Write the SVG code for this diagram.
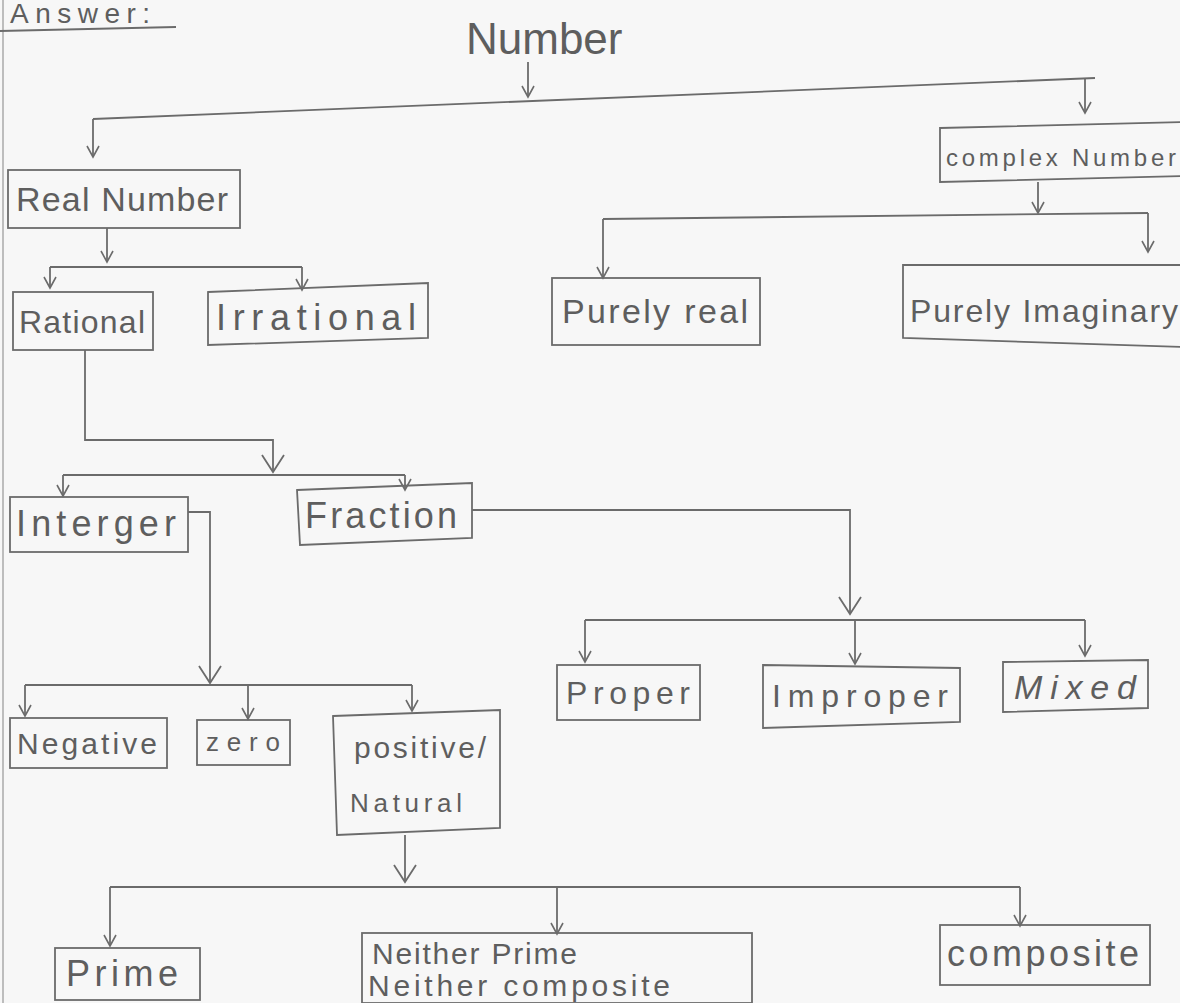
<svg xmlns="http://www.w3.org/2000/svg" width="1180" height="1003" viewBox="0 0 1180 1003">
<style>
.box{fill:none;stroke:#6b6b6b;stroke-width:1.8}
.ln{fill:none;stroke:#6b6b6b;stroke-width:1.8}
.ar{fill:none;stroke:#6b6b6b;stroke-width:1.8;marker-end:url(#v)}
.arb{fill:none;stroke:#6b6b6b;stroke-width:1.8;marker-end:url(#vb)}
text{font-family:"Liberation Sans","DejaVu Sans",sans-serif;fill:#5e5e5e}
</style>
<defs>
<marker id="v" viewBox="-14 -9 16 18" refX="0" refY="0" markerWidth="16" markerHeight="18" markerUnits="userSpaceOnUse" orient="auto">
<path d="M-11,-6 L0,0 L-11,6" fill="none" stroke="#6b6b6b" stroke-width="1.6"/>
</marker>
<marker id="vb" viewBox="-20 -14 22 28" refX="0" refY="0" markerWidth="22" markerHeight="28" markerUnits="userSpaceOnUse" orient="auto">
<path d="M-17,-11 L0,0 L-17,11" fill="none" stroke="#6b6b6b" stroke-width="1.8"/>
</marker>
</defs>
<rect x="0" y="0" width="1180" height="1003" fill="#f7f7f7"/>
<line x1="3" y1="0" x2="3" y2="1003" stroke="#bdbdbd" stroke-width="2"/>

<g id="title">
<text x="10" y="23" font-size="28" textLength="140" lengthAdjust="spacing">Answer:</text>
<path class="ln" d="M0,31 L176,27" stroke-width="3"/>
</g>

<g id="connectors">
<line class="ar" x1="528" y1="62" x2="528" y2="97"/>
<path class="ln" d="M93,119 L1095,78"/>
<line class="ar" x1="93" y1="119" x2="93" y2="157"/>
<line class="ar" x1="1085" y1="79" x2="1085" y2="113"/>
<line class="ar" x1="107" y1="228" x2="107" y2="262"/>
<path class="ln" d="M50,267 L302,267"/>
<line class="ar" x1="50" y1="267" x2="50" y2="288"/>
<line class="ar" x1="302" y1="267" x2="302" y2="290"/>
<line class="ar" x1="1038" y1="182" x2="1038" y2="213"/>
<path class="ln" d="M603,219 L1148,213"/>
<line class="ar" x1="603" y1="219" x2="603" y2="278"/>
<line class="ar" x1="1148" y1="213" x2="1148" y2="252"/>
<path class="arb" d="M85,350 L85,440 L273,440 L273,472"/>
<path class="ln" d="M63,475 L405,475"/>
<line class="ar" x1="63" y1="475" x2="63" y2="496"/>
<line class="ar" x1="405" y1="475" x2="405" y2="490"/>
<path class="arb" d="M472,510 L850,510 L850,614"/>
<path class="ln" d="M585,620 L1085,620"/>
<line class="ar" x1="585" y1="620" x2="585" y2="662"/>
<line class="ar" x1="855" y1="620" x2="855" y2="664"/>
<line class="ar" x1="1085" y1="620" x2="1085" y2="656"/>
<path class="arb" d="M188,512 L210,512 L210,683"/>
<path class="ln" d="M25,685 L412,685"/>
<line class="ar" x1="25" y1="685" x2="25" y2="716"/>
<line class="ar" x1="248" y1="685" x2="248" y2="719"/>
<line class="ar" x1="412" y1="685" x2="412" y2="711"/>
<line class="arb" x1="405" y1="835" x2="405" y2="882"/>
<path class="ln" d="M110,887 L1020,887"/>
<line class="ar" x1="110" y1="887" x2="110" y2="946"/>
<line class="ar" x1="557" y1="887" x2="557" y2="934"/>
<line class="ar" x1="1020" y1="887" x2="1020" y2="926"/>
</g>

<g id="n-number">
<text x="466" y="54" font-size="44">Number</text>
</g>
<g id="n-real">
<rect class="box" x="8" y="170" width="232" height="58"/>
<text x="16" y="211" font-size="34" textLength="212" lengthAdjust="spacing">Real Number</text>
</g>
<g id="n-complex">
<path class="box" d="M940,128 L1185,122 L1185,176 L940,182 Z"/>
<text x="946" y="166" font-size="24" textLength="230" lengthAdjust="spacing">complex Number</text>
</g>
<g id="n-rational">
<rect class="box" x="13" y="292" width="140" height="58"/>
<text x="19" y="333" font-size="32" textLength="126" lengthAdjust="spacing">Rational</text>
</g>
<g id="n-irrational">
<path class="box" d="M208,292 L428,283 L428,338 L208,345 Z"/>
<text x="216" y="330" font-size="36" textLength="200" lengthAdjust="spacing">Irrational</text>
</g>
<g id="n-purely-real">
<rect class="box" x="552" y="278" width="208" height="67"/>
<text x="562" y="323" font-size="34" textLength="186" lengthAdjust="spacing">Purely real</text>
</g>
<g id="n-purely-imaginary">
<path class="box" d="M903,265 L1185,265 L1185,347 L903,338 Z"/>
<text x="910" y="322" font-size="32" textLength="268" lengthAdjust="spacing">Purely Imaginary</text>
</g>
<g id="n-integer">
<rect class="box" x="10" y="497" width="178" height="55"/>
<text x="16" y="536" font-size="36" textLength="160" lengthAdjust="spacing">Interger</text>
</g>
<g id="n-fraction">
<path class="box" d="M297,490 L472,483 L472,538 L300,545 Z"/>
<text x="305" y="528" font-size="36" textLength="152" lengthAdjust="spacing">Fraction</text>
</g>
<g id="n-proper">
<rect class="box" x="557" y="665" width="143" height="55"/>
<text x="566" y="704" font-size="32" textLength="124" lengthAdjust="spacing">Proper</text>
</g>
<g id="n-improper">
<path class="box" d="M763,665 L960,668 L960,722 L763,728 Z"/>
<text x="772" y="707" font-size="32" textLength="176" lengthAdjust="spacing">Improper</text>
</g>
<g id="n-mixed">
<path class="box" d="M1003,662 L1148,660 L1148,708 L1003,712 Z"/>
<text x="1014" y="699" font-size="34" font-style="italic" textLength="122" lengthAdjust="spacing">Mixed</text>
</g>
<g id="n-negative">
<rect class="box" x="10" y="718" width="157" height="50"/>
<text x="17" y="754" font-size="30" textLength="140" lengthAdjust="spacing">Negative</text>
</g>
<g id="n-zero">
<rect class="box" x="197" y="720" width="93" height="45"/>
<text x="206" y="751" font-size="26" textLength="74" lengthAdjust="spacing">zero</text>
</g>
<g id="n-positive">
<path class="box" d="M333,716 L500,710 L500,828 L337,835 Z"/>
<text x="354" y="758" font-size="30" textLength="132" lengthAdjust="spacing">positive/</text>
<text x="350" y="812" font-size="26" textLength="112" lengthAdjust="spacing">Natural</text>
</g>
<g id="n-prime">
<rect class="box" x="55" y="948" width="145" height="52"/>
<text x="66" y="986" font-size="36" textLength="112" lengthAdjust="spacing">Prime</text>
</g>
<g id="n-neither">
<rect class="box" x="362" y="933" width="390" height="70"/>
<text x="372" y="964" font-size="30" textLength="205" lengthAdjust="spacing">Neither Prime</text>
<text x="368" y="996" font-size="30" textLength="302" lengthAdjust="spacing">Neither composite</text>
</g>
<g id="n-composite">
<rect class="box" x="940" y="925" width="210" height="60"/>
<text x="947" y="966" font-size="36" textLength="192" lengthAdjust="spacing">composite</text>
</g>
</svg>
